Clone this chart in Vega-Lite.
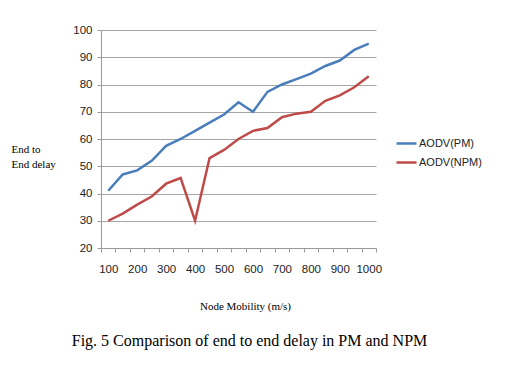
{
  "$schema": "https://vega.github.io/schema/vega-lite/v6.json",
  "autosize": "none",
  "width": 275,
  "height": 218,
  "padding": {"left": 101, "top": 30, "right": 138, "bottom": 119},
  "background": "white",
  "config": {
    "view": {"stroke": null},
    "axis": {"labelFont": "Liberation Sans", "labelFontSize": 11.5, "labelColor": "#222", "domainColor": "#9a9a9a", "tickColor": "#9a9a9a", "titleFont": "Liberation Serif", "titleFontWeight": "normal", "titleFontSize": 11, "titleColor": "#000"},
    "legend": {"labelFont": "Liberation Sans", "labelFontSize": 11, "labelColor": "#222"}
  },
  "title": {
    "text": "Fig. 5 Comparison of end to end delay in PM and NPM",
    "orient": "bottom",
    "anchor": "middle",
    "font": "Liberation Serif",
    "fontSize": 16,
    "fontWeight": "normal",
    "color": "#000",
    "offset": 22,
    "dx": 11
  },
  "data": {
    "values": [
      {"mobility": 100, "series": "AODV(PM)", "delay": 41},
      {"mobility": 150, "series": "AODV(PM)", "delay": 47},
      {"mobility": 200, "series": "AODV(PM)", "delay": 48.5},
      {"mobility": 250, "series": "AODV(PM)", "delay": 52},
      {"mobility": 300, "series": "AODV(PM)", "delay": 57.5},
      {"mobility": 350, "series": "AODV(PM)", "delay": 60},
      {"mobility": 400, "series": "AODV(PM)", "delay": 63},
      {"mobility": 450, "series": "AODV(PM)", "delay": 66},
      {"mobility": 500, "series": "AODV(PM)", "delay": 69},
      {"mobility": 550, "series": "AODV(PM)", "delay": 73.5},
      {"mobility": 600, "series": "AODV(PM)", "delay": 70},
      {"mobility": 650, "series": "AODV(PM)", "delay": 77.3},
      {"mobility": 700, "series": "AODV(PM)", "delay": 80},
      {"mobility": 750, "series": "AODV(PM)", "delay": 82},
      {"mobility": 800, "series": "AODV(PM)", "delay": 84},
      {"mobility": 850, "series": "AODV(PM)", "delay": 86.8},
      {"mobility": 900, "series": "AODV(PM)", "delay": 88.8},
      {"mobility": 950, "series": "AODV(PM)", "delay": 92.7},
      {"mobility": 1000, "series": "AODV(PM)", "delay": 95},
      {"mobility": 100, "series": "AODV(NPM)", "delay": 30},
      {"mobility": 150, "series": "AODV(NPM)", "delay": 32.6},
      {"mobility": 200, "series": "AODV(NPM)", "delay": 35.9},
      {"mobility": 250, "series": "AODV(NPM)", "delay": 38.9},
      {"mobility": 300, "series": "AODV(NPM)", "delay": 43.6},
      {"mobility": 350, "series": "AODV(NPM)", "delay": 45.7},
      {"mobility": 400, "series": "AODV(NPM)", "delay": 30},
      {"mobility": 450, "series": "AODV(NPM)", "delay": 53},
      {"mobility": 500, "series": "AODV(NPM)", "delay": 56},
      {"mobility": 550, "series": "AODV(NPM)", "delay": 60},
      {"mobility": 600, "series": "AODV(NPM)", "delay": 63},
      {"mobility": 650, "series": "AODV(NPM)", "delay": 64},
      {"mobility": 700, "series": "AODV(NPM)", "delay": 68},
      {"mobility": 750, "series": "AODV(NPM)", "delay": 69.3},
      {"mobility": 800, "series": "AODV(NPM)", "delay": 70},
      {"mobility": 850, "series": "AODV(NPM)", "delay": 74},
      {"mobility": 900, "series": "AODV(NPM)", "delay": 76},
      {"mobility": 950, "series": "AODV(NPM)", "delay": 79},
      {"mobility": 1000, "series": "AODV(NPM)", "delay": 83}
    ]
  },
  "mark": {"type": "line", "strokeWidth": 2.5},
  "encoding": {
    "x": {
      "field": "mobility",
      "type": "quantitative",
      "scale": {"domain": [75, 1025], "nice": false, "zero": false},
      "axis": {
        "title": "Node Mobility (m/s)",
        "titleX": 144,
        "titleY": 58,
        "titleAlign": "center",
        "titleBaseline": "middle",
        "grid": false,
        "values": [75, 100, 125, 150, 175, 200, 225, 250, 275, 300, 325, 350, 375, 400, 425, 450, 475, 500, 525, 550, 575, 600, 625, 650, 675, 700, 725, 750, 775, 800, 825, 850, 875, 900, 925, 950, 975, 1000, 1025],
        "format": "d",
        "labelExpr": "datum.value % 100 === 0 ? datum.label : ''",
        "tickOpacity": {"condition": {"test": "datum.value % 50 === 25", "value": 1}, "value": 0},
        "tickSize": 4,
        "labelPadding": 11,
        "labelFlush": false,
        "labelOverlap": false
      }
    },
    "y": {
      "field": "delay",
      "type": "quantitative",
      "scale": {"domain": [20, 100], "nice": false, "zero": false},
      "axis": {
        "title": ["End to", "End delay"],
        "titleAngle": 0,
        "titleX": -90,
        "titleY": 122,
        "titleAlign": "left",
        "titleBaseline": "alphabetic",
        "titleLineHeight": 15,
        "values": [20, 30, 40, 50, 60, 70, 80, 90, 100],
        "grid": true,
        "gridColor": "#a6a6a6",
        "tickSize": 4,
        "labelPadding": 5
      }
    },
    "color": {
      "field": "series",
      "type": "nominal",
      "scale": {"domain": ["AODV(PM)", "AODV(NPM)"], "range": ["#4a7ebb", "#be4b48"]},
      "legend": {
        "title": null,
        "orient": "none",
        "legendX": 294,
        "legendY": 102,
        "symbolType": "stroke",
        "symbolSize": 400,
        "symbolStrokeWidth": 2.5,
        "labelOffset": 1,
        "rowPadding": 2
      }
    }
  }
}
